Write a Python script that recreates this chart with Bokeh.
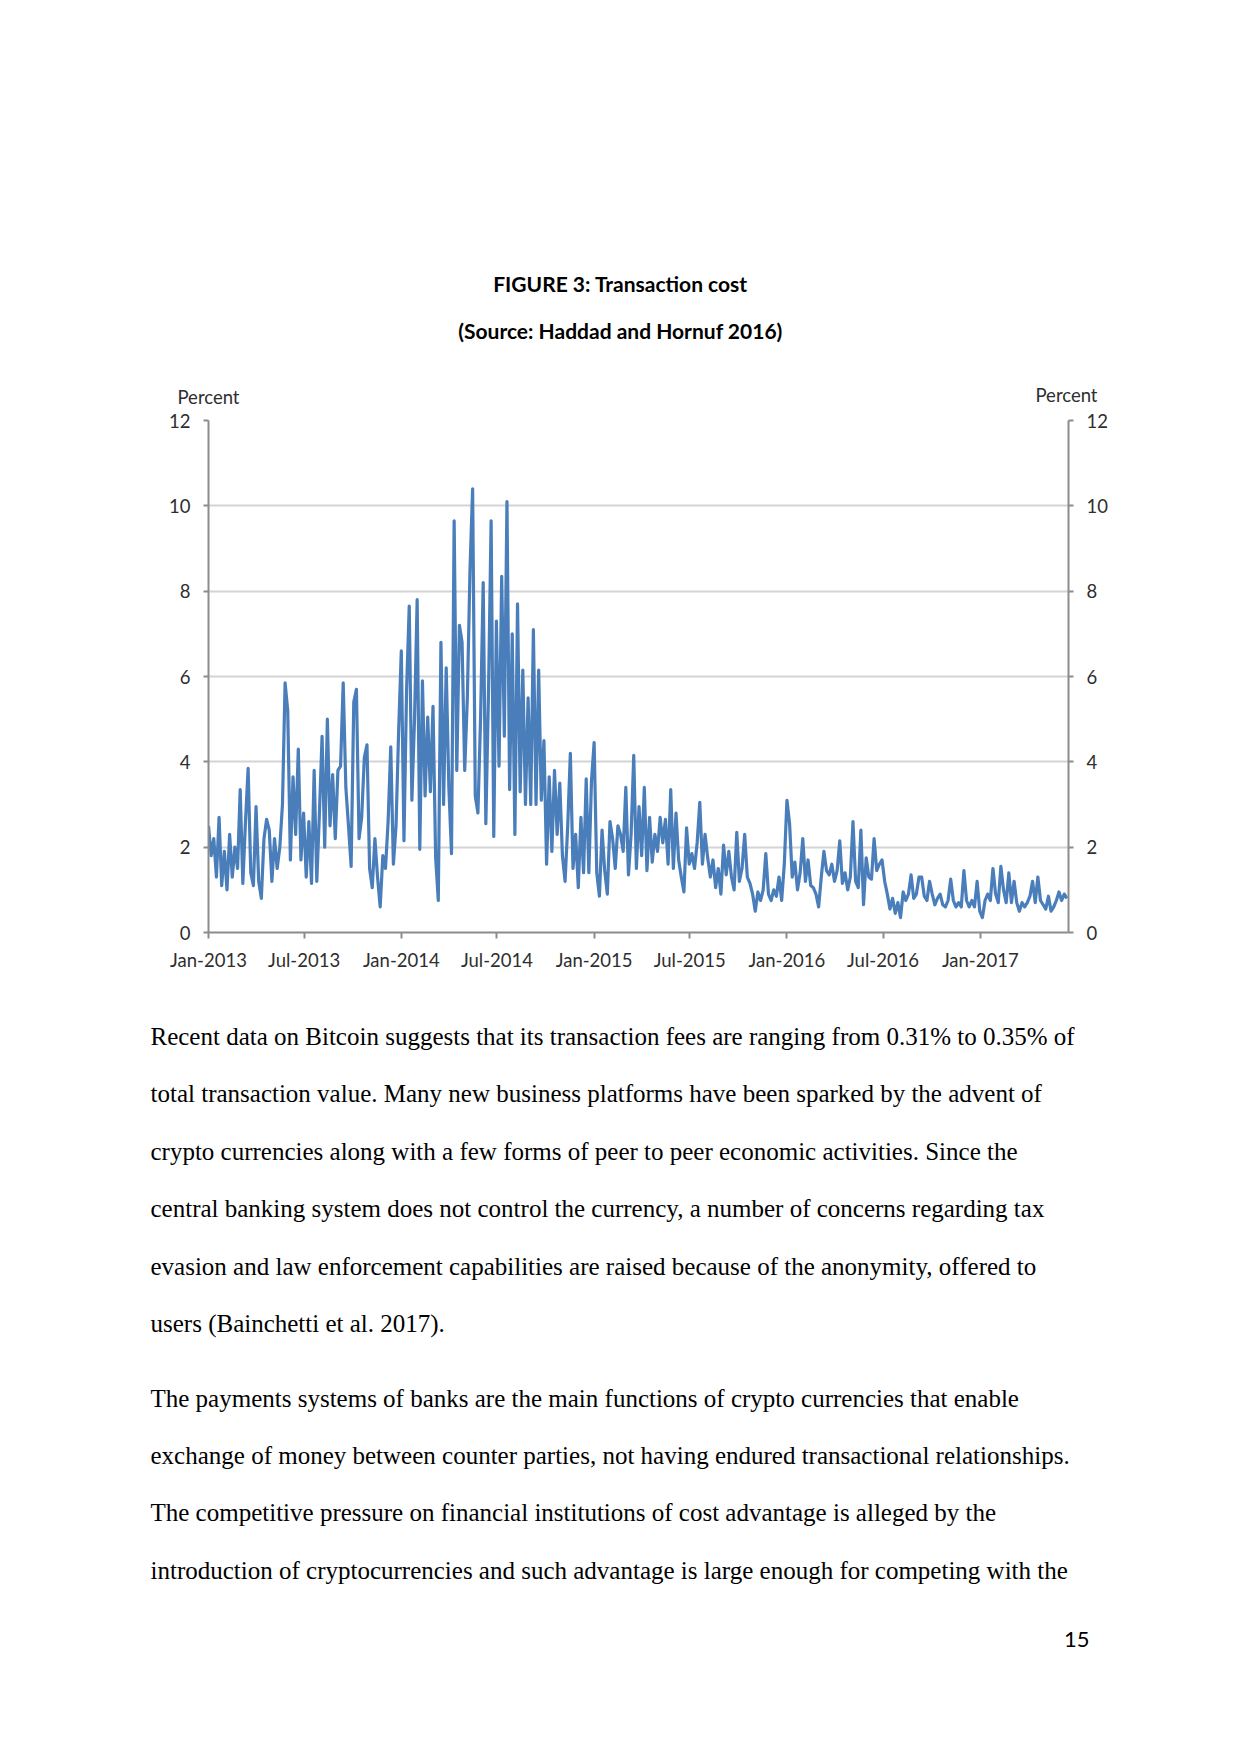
import pandas as pd
from bokeh.plotting import figure
from bokeh.models import Range1d, LinearAxis, FixedTicker, DatetimeTickFormatter
from bokeh.core.properties import value
from bokeh.embed import file_html
from bokeh.resources import INLINE

# ---------------- data (5-day steps) ----------------
start_date = "2013-01-01"
step = "5D"

fee_2013 = [2.5, 1.8, 2.2, 1.3, 2.7, 1.1, 1.9, 1.0, 2.3, 1.3,
            2.0, 1.5, 3.35, 1.15, 2.6, 3.85, 1.4, 1.1, 2.95, 1.2,
            0.8, 2.2, 2.65, 2.4, 1.2, 2.2, 1.5, 2.0, 3.0, 5.85,
            5.2, 1.7, 3.65, 2.3, 4.3, 1.7, 2.8, 1.3, 2.6, 1.15,
            3.8, 1.2, 2.8, 4.6, 2.0, 5.0, 2.5, 3.7, 2.2, 3.8,
            3.9, 5.85, 3.4, 2.5, 1.55, 5.4, 5.7, 2.2, 2.7, 4.1,
            4.4, 1.5, 1.05, 2.2, 1.3, 0.6, 1.8, 1.5, 2.6, 4.35,
            1.6, 2.5, 4.75]
fee_2014 = [6.6, 2.15, 5.7, 7.65, 3.1, 5.0, 7.8, 1.95, 5.9, 3.2,
            5.05, 3.3, 5.3, 1.75, 0.75, 6.8, 3.0, 6.2, 3.4, 1.85,
            9.65, 3.8, 7.2, 6.8, 3.8, 5.5, 8.5, 10.4, 3.2, 2.8,
            5.0, 8.2, 2.55, 5.6, 9.65, 2.25, 7.3, 3.9, 8.35, 4.6,
            10.1, 3.35, 7.0, 2.3, 7.7, 3.3, 6.15, 3.0, 5.5, 3.0,
            7.1, 3.0, 6.15, 3.1, 4.5, 1.6, 3.65, 1.9, 3.8, 2.3,
            3.5, 1.8, 1.2, 2.5, 4.2, 1.5, 2.3, 1.05, 2.7, 1.4,
            3.6, 1.4, 3.55]
fee_2015 = [4.45, 1.4, 0.85, 2.4, 1.45, 0.9, 2.6, 2.2, 1.5, 2.5,
            2.3, 1.9, 3.4, 1.35, 2.3, 4.15, 1.5, 2.95, 1.8, 3.4,
            1.45, 2.7, 1.65, 2.3, 1.9, 2.7, 2.1, 2.65, 1.6, 3.35,
            1.5, 2.8, 1.7, 1.3, 0.95, 2.45, 1.6, 1.85, 1.5, 2.1,
            3.05, 1.6, 2.3, 1.75, 1.3, 1.7, 1.05, 1.5, 0.9, 2.05,
            1.35, 1.9, 1.3, 1.0, 2.35, 1.2, 1.5, 2.3, 1.3, 1.15,
            0.9, 0.5, 0.95, 0.75, 1.0, 1.85, 0.9, 0.75, 1.0, 0.85,
            1.3, 0.75, 1.6]
fee_2016 = [3.1, 2.55, 1.3, 1.65, 1.0, 1.4, 2.2, 1.2, 1.7, 1.1,
            1.05, 0.9, 0.6, 1.3, 1.9, 1.45, 1.35, 1.6, 1.2, 1.45,
            2.15, 1.15, 1.4, 1.0, 1.3, 2.6, 1.2, 1.05, 2.4, 0.65,
            1.75, 1.3, 1.25, 2.2, 1.45, 1.6, 1.7, 1.2, 0.9, 0.55,
            0.8, 0.45, 0.7, 0.35, 0.95, 0.75, 0.9, 1.35, 0.8, 0.9,
            1.3, 1.3, 0.85, 0.75, 1.2, 0.9, 0.65, 0.8, 0.9, 0.65,
            0.6, 0.75, 1.25, 0.75, 0.6, 0.7, 0.6, 1.45, 0.75, 0.6,
            0.75, 0.6, 1.2]
fee_2017 = [0.5, 0.35, 0.75, 0.9, 0.75, 1.5, 0.9, 0.7, 1.55, 1.0,
            0.7, 1.4, 0.7, 1.2, 0.7, 0.5, 0.7, 0.6, 0.7, 0.85,
            1.2, 0.7, 1.3, 0.75, 0.65, 0.55, 0.85, 0.5, 0.6, 0.75,
            0.95, 0.75, 0.9, 0.8]

x_tick_dates = ["2013-01-01", "2013-07-01", "2014-01-01", "2014-07-01", "2015-01-01",
                "2015-07-01", "2016-01-01", "2016-07-01", "2017-01-01"]
y_ticks = [0, 2, 4, 6, 8, 10, 12]
x_start, x_end = "2013-01-01", "2017-06-17"
axis_titles = ["Percent", "Percent"]

title_lines = ["FIGURE 3: Transaction cost", "(Source: Haddad and Hornuf 2016)"]
para1 = ["Recent data on Bitcoin suggests that its transaction fees are ranging from 0.31% to 0.35% of",
         "total transaction value. Many new business platforms have been sparked by the advent of",
         "crypto currencies along with a few forms of peer to peer economic activities. Since the",
         "central banking system does not control the currency, a number of concerns regarding tax",
         "evasion and law enforcement capabilities are raised because of the anonymity, offered to",
         "users (Bainchetti et al. 2017)."]
para2 = ["The payments systems of banks are the main functions of crypto currencies that enable",
         "exchange of money between counter parties, not having endured transactional relationships.",
         "The competitive pressure on financial institutions of cost advantage is alleged by the",
         "introduction of cryptocurrencies and such advantage is large enough for competing with the"]
page_number = "15"

# ---------------- layout (page pixels, origin top-left) ----------------
W = 1241
H_HDR = 408
H_CHART = 591
H_BODY = 750
TICK_FONT = "Lato"
TICK_SIZE = "18.5px"
TICK_COLOR = "#2e2e2e"


def blank(h):
    f = figure(width=W, height=h, x_range=Range1d(0, W), y_range=Range1d(h, 0),
               output_backend="svg", toolbar_location=None, min_border=0,
               x_axis_location=None, y_axis_location=None)
    f.grid.visible = False
    f.outline_line_color = None
    return f


# header: captions + the two "Percent" axis titles
hdr = blank(H_HDR)
hdr.text(x=[620, 620], y=[283, 330], text=title_lines, text_font=value("Lato"),
         text_font_style="bold", text_font_size="21px", text_align="center",
         text_baseline="middle", text_color="#000000")
hdr.text(x=[208, 1066], y=[396, 394], text=axis_titles, text_font=value(TICK_FONT),
         text_font_size=TICK_SIZE, text_align="center", text_baseline="middle",
         text_color=TICK_COLOR)

# chart
values = fee_2013 + fee_2014 + fee_2015 + fee_2016 + fee_2017
dates = pd.date_range(start_date, periods=len(values), freq=step)

p = figure(width=W, height=H_CHART, x_axis_type="datetime",
           x_range=Range1d(pd.Timestamp(x_start), pd.Timestamp(x_end)),
           y_range=Range1d(0, 12), output_backend="svg", toolbar_location=None,
           min_border_left=208, min_border_right=173, min_border_top=12, min_border_bottom=67)
p.outline_line_color = None
p.xgrid.grid_line_color = None
p.ygrid.grid_line_color = "#d4d4d4"
p.ygrid.grid_line_width = 2
p.ygrid.ticker = FixedTicker(ticks=y_ticks)

p.line(x=dates, y=values, line_color="#4a7ebb", line_width=3.2, line_join="round")

tick_ms = [pd.Timestamp(d).value / 1e6 for d in x_tick_dates]
p.xaxis.ticker = FixedTicker(ticks=tick_ms)
fmt = "%b-%Y"
p.xaxis.formatter = DatetimeTickFormatter(days=fmt, months=fmt, years=fmt, hours=fmt,
                                          minutes=fmt, seconds=fmt, milliseconds=fmt,
                                          microseconds=fmt, hourmin=fmt, minsec=fmt)

right = LinearAxis()
p.add_layout(right, "right")
p.yaxis.ticker = FixedTicker(ticks=y_ticks)

for ax in p.xaxis + p.yaxis:
    ax.axis_line_color = "#8c8c8c"
    ax.axis_line_width = 2
    ax.major_tick_line_color = "#8c8c8c"
    ax.major_tick_line_width = 2
    ax.major_tick_in = 0
    ax.minor_tick_line_color = None
    ax.major_label_text_font = TICK_FONT
    ax.major_label_text_font_size = TICK_SIZE
    ax.major_label_text_color = TICK_COLOR
p.xaxis.major_tick_out = 6
p.xaxis.major_label_standoff = 10
for ax in p.yaxis:
    ax.major_tick_out = 5
    ax.major_label_standoff = 13

# body text + page number (body starts at page y = H_HDR + H_CHART)
top = H_HDR + H_CHART
body = blank(H_BODY)
gap = 57.4
y1 = [1036 - top + gap * i for i in range(len(para1))]
y2 = [1397.5 - top + gap * i for i in range(len(para2))]
body.text(x=[150] * (len(para1) + len(para2)), y=y1 + y2, text=para1 + para2,
          text_font=value("Liberation Serif"), text_font_size="25px",
          text_align="left", text_baseline="alphabetic", text_color="#000000")
body.text(x=[1089], y=[1639 - top], text=[page_number], text_font=value("Lato"),
          text_font_size="22px", text_align="right", text_baseline="middle",
          text_color="#000000")

open("out.html", "w").write(file_html([hdr, p, body], INLINE))
